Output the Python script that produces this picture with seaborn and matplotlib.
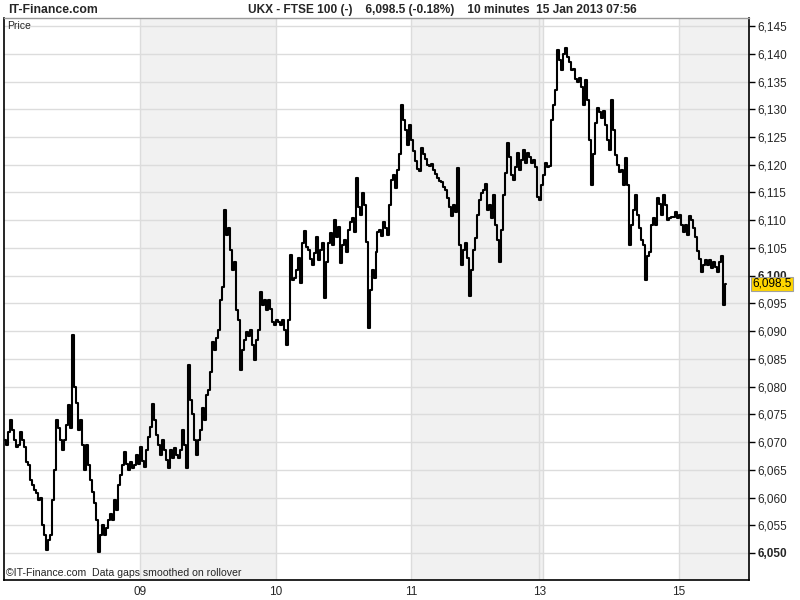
import numpy as np
import pandas as pd
import matplotlib
matplotlib.use("Agg")
import matplotlib.pyplot as plt
import matplotlib.transforms as mtransforms
import seaborn as sns

# ---------------- data (10-minute FTSE 100 prices) ----------------
days = ["08", "09", "10", "11", "13", "14", "15"]
shaded_days = ["09", "11", "13", "15"]
tick_days = ["09", "10", "11", "13", "15"]

jan08 = [6070.4, 6069.5, 6071.8, 6074.0, 6072.2, 6070.4, 6069.1, 6069.5, 6071.8, 6070.4,
         6069.1, 6066.4, 6065.9, 6063.2, 6062.3, 6061.4, 6060.8, 6059.6, 6060.0, 6055.0,
         6053.2, 6050.5, 6052.3, 6053.2, 6059.6, 6065.0, 6074.0, 6072.6, 6070.4, 6068.6,
         6070.4, 6073.1, 6076.7, 6072.6, 6089.3, 6080.0, 6077.0, 6072.2, 6074.0, 6069.5,
         6065.0, 6069.5, 6065.9, 6063.2, 6061.0, 6059.0, 6056.0, 6050.2, 6053.2, 6055.0,
         6053.2, 6054.5, 6055.9, 6057.0, 6055.9, 6059.6, 6057.8, 6062.3, 6064.0, 6065.9,
         6068.2, 6066.0, 6065.0, 6066.4, 6065.3, 6065.9, 6067.7, 6066.0]
jan09 = [6069.1, 6066.5, 6065.5, 6068.5, 6071.0, 6072.8, 6076.9, 6074.0, 6071.3, 6069.5,
         6067.7, 6070.4, 6068.6, 6066.8, 6065.3, 6068.6, 6067.1, 6069.0, 6067.7, 6067.1,
         6068.6, 6072.2, 6069.5, 6065.3, 6083.9, 6077.6, 6075.0, 6070.4, 6067.7, 6070.4,
         6072.2, 6076.1, 6074.0, 6078.5, 6079.4, 6082.6, 6088.0, 6086.6, 6088.8, 6090.2,
         6095.6, 6098.0, 6111.8, 6107.3, 6108.6, 6104.6, 6101.0, 6102.4, 6093.8, 6092.0,
         6083.0, 6086.6, 6088.4, 6089.8, 6089.1, 6090.2, 6087.5, 6084.8, 6088.4, 6090.2,
         6097.1, 6094.7, 6095.6, 6093.8, 6095.6, 6094.0, 6091.6, 6091.1]
jan10 = [6092.0, 6091.6, 6091.1, 6092.0, 6090.2, 6087.5, 6092.0, 6103.7, 6099.2, 6099.6,
         6101.0, 6103.2, 6098.7, 6105.9, 6108.0, 6105.2, 6104.6, 6103.0, 6101.9, 6104.1,
         6107.0, 6102.8, 6104.6, 6105.9, 6096.0, 6102.4, 6105.9, 6107.7, 6105.5, 6110.0,
         6107.0, 6108.8, 6102.3, 6105.5, 6106.4, 6104.3, 6108.2, 6109.7, 6110.4, 6107.9,
         6117.6, 6112.4, 6110.9, 6114.9, 6112.8, 6106.1, 6090.6, 6097.4, 6101.0, 6099.6,
         6104.3, 6107.9, 6108.2, 6107.2, 6109.7, 6108.6, 6107.3, 6112.8, 6117.3, 6118.2,
         6115.8, 6119.1, 6122.0, 6130.8, 6128.1, 6126.3, 6123.6, 6127.2]
jan11 = [6124.5, 6122.4, 6120.6, 6119.2, 6118.8, 6123.1, 6122.0, 6121.0, 6120.0, 6119.8,
         6120.1, 6119.1, 6118.4, 6117.6, 6117.0, 6116.8, 6116.0, 6115.4, 6114.0, 6112.4,
         6110.8, 6112.8, 6111.5, 6119.4, 6105.5, 6101.9, 6104.6, 6105.9, 6103.2, 6096.3,
         6101.0, 6104.6, 6106.8, 6110.9, 6113.6, 6114.9, 6115.4, 6116.5, 6111.8, 6112.8,
         6110.4, 6114.6, 6109.1, 6106.4, 6102.4, 6108.2, 6114.6, 6118.5, 6123.9, 6121.4,
         6118.2, 6117.3, 6119.5, 6122.1, 6119.1, 6120.9, 6122.7, 6120.3, 6122.1, 6121.4,
         6120.3, 6120.9, 6119.5, 6114.2]
jan13 = [6113.6, 6116.4]
jan14 = [6118.2, 6120.3, 6119.5, 6119.8, 6128.1, 6130.8, 6133.5, 6140.7, 6138.9, 6137.1,
         6140.0, 6141.1, 6139.5, 6138.5, 6137.0, 6137.2, 6135.5, 6134.9, 6135.6, 6134.0,
         6130.8, 6135.2, 6131.7, 6124.5, 6116.4, 6122.0, 6127.5, 6130.2, 6129.5, 6128.5,
         6129.6, 6127.2, 6124.5, 6122.7, 6131.7, 6126.3, 6121.8, 6120.0, 6118.7, 6119.1,
         6116.4, 6121.3, 6116.4, 6105.5, 6109.1, 6111.8, 6114.6, 6111.0, 6108.6, 6106.4,
         6105.5, 6099.2, 6103.5, 6104.3, 6109.1, 6110.4, 6109.1, 6114.0, 6113.0, 6111.0,
         6114.6, 6112.8, 6110.0, 6110.4, 6110.5, 6110.6, 6111.5, 6110.4]
jan15 = [6111.0, 6109.1, 6107.9, 6109.1, 6107.3, 6110.8, 6110.0, 6108.6, 6107.0, 6104.5,
         6103.0, 6100.6, 6101.9, 6102.8, 6101.9, 6102.8, 6101.4, 6102.4, 6101.6, 6100.6,
         6102.4, 6103.6, 6094.7, 6098.5]

yticks = list(range(6050, 6150, 5))
bold_ticks = [6050, 6100]
last_price = 6098.5
brand = "IT-Finance.com"
title = "UKX - FTSE 100 (-)    6,098.5 (-0.18%)    10 minutes  15 Jan 2013 07:56"
panel_label = "Price"
footer = "\u00a9IT-Finance.com  Data gaps smoothed on rollover"

# ---------------- build table ----------------
sessions = [jan08, jan09, jan10, jan11, jan13, jan14, jan15]
rows = []
starts, ends = [], []
idx = 0
for d, s in zip(days, sessions):
    starts.append(idx - 0.5)
    for p in s:
        rows.append((idx, d, p))
        idx += 1
    ends.append(idx - 0.5)
df = pd.DataFrame(rows, columns=["bar", "day", "price"])
day_start = dict(zip(days, starts))
day_end = dict(zip(days, ends))

# ---------------- figure ----------------
sns.set_style("white")
plt.rcParams["font.family"] = ["Liberation Sans", "DejaVu Sans"]

fig = plt.figure(figsize=(8, 6), dpi=100)
fig.patch.set_facecolor("white")
ax = fig.add_axes([4 / 800, 20 / 600, 745 / 800, 562 / 600])
ax.set_facecolor("white")

# day shading
for d in shaded_days:
    ax.axvspan(day_start[d], day_end[d] if d != days[-1] else 1000,
               color="#f1f1f1", lw=0, zorder=0)

# grid
for y in yticks:
    ax.axhline(y, color="#dcdcdc", lw=1, zorder=1)
for d in days[1:]:
    ax.axvline(day_start[d], color="#dcdcdc", lw=1, zorder=1)

sns.lineplot(data=df, x="bar", y="price", ax=ax, color="black", lw=1.5,
             drawstyle="steps-mid", estimator=None, sort=False, zorder=3)

ax.set_xlim(-0.5, len(df) - 1 + 11.5)
ax.set_ylim(6045.13, 6146.45)

# axes styling
for side in ["left", "right", "bottom"]:
    ax.spines[side].set_color("black")
    ax.spines[side].set_linewidth(1.2)
ax.spines["top"].set_color("#9a9a9a")
ax.spines["top"].set_linewidth(1)

ax.yaxis.tick_right()
ax.set_yticks(yticks)
ax.set_yticklabels([f"{v:,}" for v in yticks])
for lab, v in zip(ax.get_yticklabels(), yticks):
    if v in bold_ticks:
        lab.set_fontweight("bold")
        lab.set_fontsize(9)
ax.set_xticks([day_start[d] for d in tick_days])
ax.set_xticklabels(tick_days)
ax.tick_params(axis="y", direction="out", length=4, width=1, color="black",
               labelsize=8.5, pad=2, left=False, right=True)
ax.tick_params(axis="x", direction="out", length=3, width=1, color="black",
               labelsize=8.5, pad=1)
ax.set_xlabel("")
ax.set_ylabel("")

# last price marker
trans = mtransforms.blended_transform_factory(ax.transAxes, ax.transData)
ax.text(1.004, last_price, f"{last_price:,.1f}", transform=trans, ha="left", va="center",
        fontsize=8.5, color="black", clip_on=False, zorder=6,
        bbox=dict(boxstyle="square,pad=0.12", facecolor="#ffd500", edgecolor="#a0a0a0", lw=0.8))

# texts
ax.text(0.004, 0.995, panel_label, transform=ax.transAxes, ha="left", va="top",
        fontsize=7.5)
ax.text(0.003, 0.004, footer, transform=ax.transAxes, ha="left", va="bottom",
        fontsize=7.6)
fig.text(8 / 800, 1 - 10 / 600, brand, ha="left", va="center", fontsize=8.8,
         fontweight="bold")
fig.text(442 / 800, 1 - 10 / 600, title, ha="center", va="center", fontsize=8.6,
         fontweight="bold")

fig.savefig("out.png", dpi=100)
